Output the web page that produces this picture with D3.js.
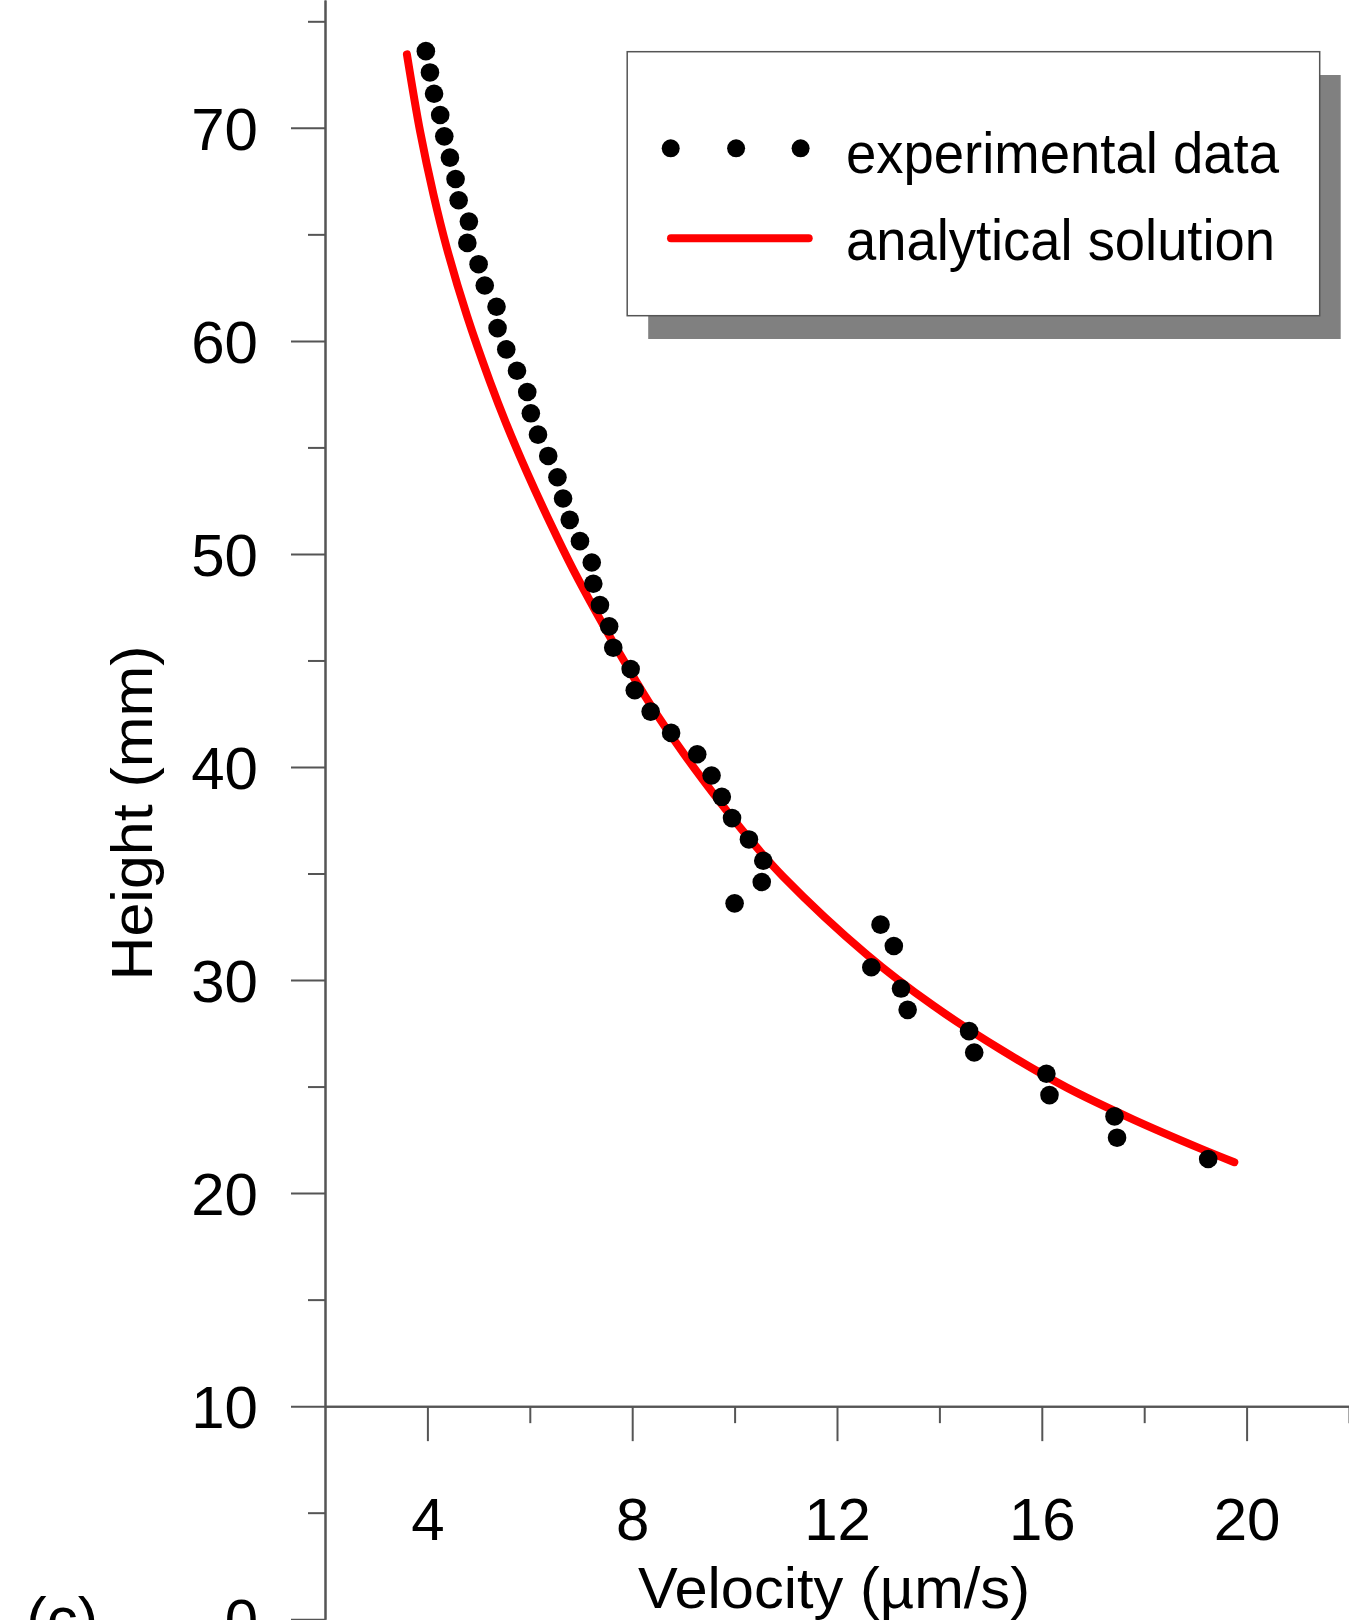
<html>
  <head>
    <meta charset="utf-8">
    <title>Height vs velocity</title>
    <script src="https://d3js.org/d3.v7.min.js"></script>
    <style>
      body{margin:0;background:#fff;}
      text{font-family:"Liberation Sans",Arial,sans-serif;fill:#000;}
    </style>
  </head>
  <body>
    <script>
      // experimental points (height steps of 1 mm)
      var expVelocity=[3.97,4.05,4.13,4.25,4.33,4.44,4.55,4.61,4.81,4.78,
                       5.00,5.12,5.35,5.37,5.54,5.75,5.95,6.02,6.16,6.36,
                       6.54,6.65,6.78,6.98,7.21,7.24,7.37,7.55,7.63,7.97,
                       8.05,8.36,8.76,9.27,9.55,9.75,9.95,10.28,10.56,10.53,
                       10.00,12.85,13.11,12.67,13.25,13.38,14.58,14.68,16.09,16.15,
                       17.42,17.47,19.25];
      var expHeight=[73.6,72.6,71.6,70.6,69.6,68.6,67.6,66.6,65.6,64.6,
                     63.6,62.6,61.6,60.6,59.6,58.6,57.6,56.6,55.6,54.6,
                     53.6,52.6,51.6,50.6,49.6,48.6,47.6,46.6,45.6,44.6,
                     43.6,42.6,41.6,40.6,39.6,38.6,37.6,36.6,35.6,34.6,
                     33.6,32.6,31.6,30.6,29.6,28.6,27.6,26.6,25.6,24.6,
                     23.6,22.6,21.6];

      // analytical curve, sampled from the figure
      var solVelocity=[3.60,3.86,4.12,4.38,4.77,5.22,5.55,5.94,6.40,6.85,7.31,7.70,
                       8.35,9.00,9.65,10.30,10.95,12.58,13.88,15.19,16.49,17.79,19.09,19.76];
      var solHeight=[73.45,69.8,66.85,64.35,61.2,58.1,56.05,53.85,51.45,49.25,47.2,45.55,
                     42.95,40.65,38.55,36.6,34.85,31.2,28.8,26.75,24.95,23.45,22.1,21.45];

      var xMajor=[4,8,12,16,20];
      var xMinor=[6,10,14,18,22];
      var yMajor=[0,10,20,30,40,50,60,70];
      var yMinor=[5,15,25,35,45,55,65,75];
      var legendLabels=["experimental data","analytical solution"];
      var xTitle="Velocity (µm/s)";
      var yTitle="Height (mm)";

      var W=1349,H=1620;
      var axisColor="#555";

      var svg=d3.select('body').append('svg')
                .attr('width',W)
                .attr('height',H);

      svg.append('rect').attr('width',W).attr('height',H).attr('fill','#fff');

      var x=d3.scaleLinear().domain([2,22]).range([325,1349]);
      var y=d3.scaleLinear().domain([0,76]).range([1619.2,0]);

      var xAxisY=y(10);

      // x axis (crosses at height 10)
      var gxMin=svg.append('g').attr('transform','translate(0,'+xAxisY+')')
                   .call(d3.axisBottom(x).tickValues(xMinor).tickSize(17).tickSizeOuter(0).tickFormat(''));
      var gx=svg.append('g').attr('transform','translate(0,'+xAxisY+')')
                .call(d3.axisBottom(x).tickValues(xMajor).tickSize(35).tickSizeOuter(0).tickPadding(56));

      // y axis
      var gyMin=svg.append('g').attr('transform','translate('+x(2)+',0)')
                   .call(d3.axisLeft(y).tickValues(yMinor).tickSize(17).tickSizeOuter(0).tickFormat(''));
      var gy=svg.append('g').attr('transform','translate('+x(2)+',0)')
                .call(d3.axisLeft(y).tickValues(yMajor).tickSize(34).tickSizeOuter(0).tickPadding(33));

      [gx,gxMin,gy,gyMin].forEach(function(g){
        g.select('.domain').attr('stroke',axisColor).attr('stroke-width',2);
        g.selectAll('.tick line').attr('stroke',axisColor).attr('stroke-width',2);
        g.selectAll('.tick text')
         .attr('font-family','"Liberation Sans",Arial,sans-serif')
         .attr('font-size',60)
         .attr('fill','#000');
      });
      gy.selectAll('.tick text').attr('dy','0.36em');

      // axis titles
      svg.append('text')
         .attr('x',834)
         .attr('y',1608)
         .attr('text-anchor','middle')
         .attr('font-size',58)
         .attr('textLength',392)
         .attr('lengthAdjust','spacingAndGlyphs')
         .text(xTitle);

      svg.append('text')
         .attr('transform','translate(152,813) rotate(-90)')
         .attr('text-anchor','middle')
         .attr('font-size',58)
         .attr('textLength',335)
         .attr('lengthAdjust','spacingAndGlyphs')
         .text(yTitle);

      svg.append('text')
         .attr('x',26)
         .attr('y',1640)
         .attr('font-size',62)
         .text('(c)');

      // analytical solution
      var line=d3.line()
                 .x(function(d){return x(d[0]);})
                 .y(function(d){return y(d[1]);})
                 .curve(d3.curveCatmullRom.alpha(0.5));

      svg.append('path')
         .datum(d3.zip(solVelocity,solHeight))
         .attr('d',line)
         .attr('fill','none')
         .attr('stroke','#ff0000')
         .attr('stroke-width',8)
         .attr('stroke-linecap','round');

      // experimental data
      svg.selectAll('circle.pt')
         .data(d3.zip(expVelocity,expHeight))
         .enter().append('circle')
         .attr('class','pt')
         .attr('cx',function(d){return x(d[0]);})
         .attr('cy',function(d){return y(d[1]);})
         .attr('r',9.3)
         .attr('fill','#000');

      // legend
      var lx=627.2,ly=51.7,lw=692.5,lh=264;
      svg.append('rect')
         .attr('x',lx+21).attr('y',ly+23.3)
         .attr('width',lw).attr('height',lh)
         .attr('fill','#808080');
      svg.append('rect')
         .attr('x',lx).attr('y',ly)
         .attr('width',lw).attr('height',lh)
         .attr('fill','#fff')
         .attr('stroke',axisColor)
         .attr('stroke-width',1.5);

      [670.7,736.1,800.6].forEach(function(cx){
        svg.append('circle')
           .attr('cx',cx).attr('cy',148.3)
           .attr('r',9)
           .attr('fill','#000');
      });
      svg.append('line')
         .attr('x1',671).attr('x2',808.7)
         .attr('y1',238.3).attr('y2',238.3)
         .attr('stroke','#ff0000')
         .attr('stroke-width',8)
         .attr('stroke-linecap','round');

      var legendWidths=[433,429];
      var legendBase=[173.3,260];
      legendLabels.forEach(function(t,i){
        svg.append('text')
           .attr('x',846)
           .attr('y',legendBase[i])
           .attr('font-size',58)
           .attr('textLength',legendWidths[i])
           .attr('lengthAdjust','spacingAndGlyphs')
           .text(t);
      });
    </script>
  </body>
</html>
